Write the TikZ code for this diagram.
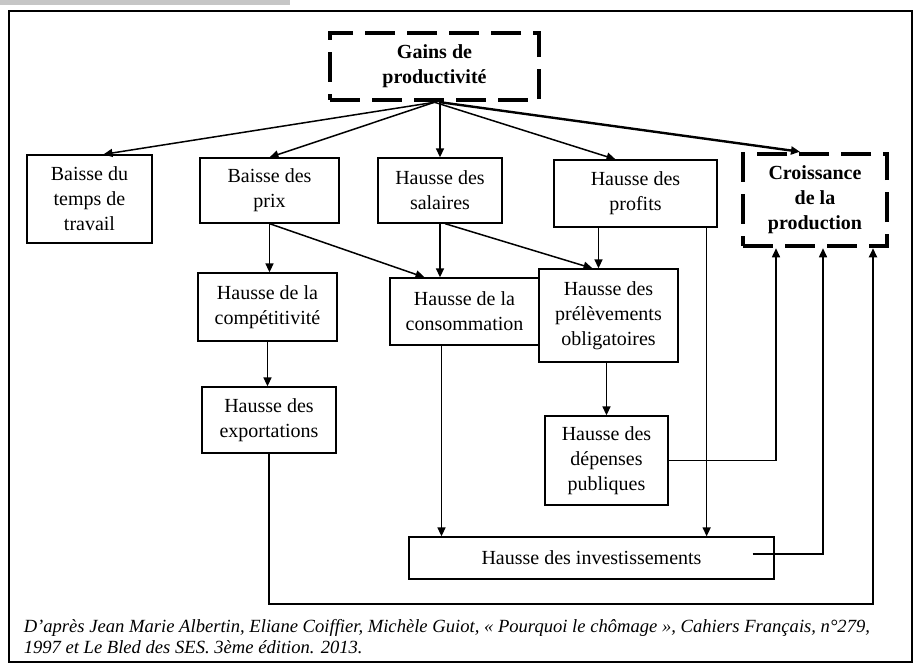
\documentclass[tikz,border=0pt]{standalone}
\usepackage{fontspec}
\setmainfont{Liberation Serif}
\usetikzlibrary{arrows.meta}
\usetikzlibrary{calc}

\begin{document}
\begin{tikzpicture}[->,>={Triangle[length=9pt,width=8pt]},x=1pt,y=-1pt,line width=1.5pt]
	\tikzstyle{boite}=[draw,line width=1.3pt,fill=white,align=center,inner sep=0pt,
		font=\fontsize{20}{25}\selectfont]
	\tikzstyle{cle}=[boite,line width=4.5pt,dash pattern=on 30pt off 12pt,
		font=\fontsize{20}{25}\selectfont\bfseries]
	
	\useasboundingbox (0,0) rectangle (913,667);
	\fill[gray!45] (0,0) rectangle (290,5);
	\draw[-,line width=1.4pt] (9,11) rectangle (912,662);
	
	\node[cle,minimum width=209pt,minimum height=67pt]   (gains)      at (434.5,66.5) {Gains de\\productivité};
	\node[boite,minimum width=125pt,minimum height=88pt] (temps)      at (89.5,199)   {Baisse du\\temps de\\travail};
	\node[boite,minimum width=139pt,minimum height=65pt] (prix)       at (269.5,190.5) {Baisse des\\prix};
	\node[boite,minimum width=124pt,minimum height=65pt] (salaires)   at (440,190.5)  {Hausse des\\salaires};
	\node[boite,minimum width=163pt,minimum height=67pt] (profits)    at (635.5,193.5) {Hausse des\\profits};
	\node[cle,minimum width=144pt,minimum height=92pt]   (croissance) at (815,200)    {Croissance\\de la\\production};
	\node[boite,minimum width=139pt,minimum height=68pt] (compet)     at (267.5,307)  {Hausse de la\\compétitivité};
	\node[boite,minimum width=149pt,minimum height=67pt] (conso)      at (464.5,311.5) {Hausse de la\\consommation};
	\node[boite,minimum width=139pt,minimum height=93pt] (prelev)     at (608.5,315.5) {Hausse des\\prélèvements\\obligatoires};
	\node[boite,minimum width=134pt,minimum height=66pt] (export)     at (269,420)    {Hausse des\\exportations};
	\node[boite,minimum width=123pt,minimum height=89pt] (depenses)   at (606.5,460.5) {Hausse des\\dépenses\\publiques};
	\node[boite,minimum width=365pt,minimum height=42pt] (invest)     at (591.5,558)  {Hausse des investissements};
	
	% source
	\node[anchor=north west,align=left,inner sep=0pt,font=\fontsize{18.6}{21}\selectfont\itshape]
		(source) at (23,619) {D'après Jean Marie Albertin, Eliane Coiffier, Michèle Guiot, « Pourquoi le chômage », Cahiers Français, n°279,\\1997 et Le Bled des SES. 3ème édition. 2013.};
	
	\path (gains.south) edge ($(temps.north)+(14,0)$)
	(gains.south) edge (prix.north)
	(gains.south -| salaires.north) edge (salaires.north)
	(gains.south) edge ($(profits.north)+(-20,0)$)
	($(gains.south)+(6,0)$) edge[line width=2.4pt] ($(croissance.north)+(-15,0)$)
	(prix.south) edge (prix.south |- compet.north)
	(prix.south) edge ($(conso.north)+(-40,0)$)
	(salaires.south) edge (salaires.south |- conso.north)
	($(salaires.south)+(5,0)$) edge ($(prelev.north)+(-16,0)$)
	(compet.south) edge (compet.south |- export.north)
	(depenses.north |- prelev.south) edge (depenses.north)
	;
	
	\coordinate (p1) at ($(prelev.north)+(-10,0)$);
	\coordinate (c1) at ($(conso.south)+(-23,0)$);
	\coordinate (f1) at ($(profits.south east)+(-11,0)$);
	\draw (p1 |- profits.south) -- (p1);
	\draw (c1) -- (c1 |- invest.north);
	\draw (f1) -- (f1 |- invest.north);
	
	% retours vers la croissance
	\draw (depenses.east) -| ($(croissance.south)+(-39,0)$);
	\draw ($(invest.east)+(-22,-4)$) -| ($(croissance.south)+(8,0)$);
	\draw[line width=2pt] (export.south) -- ++(0,150) -| ($(croissance.south)+(58,0)$);
\end{tikzpicture}
\end{document}
